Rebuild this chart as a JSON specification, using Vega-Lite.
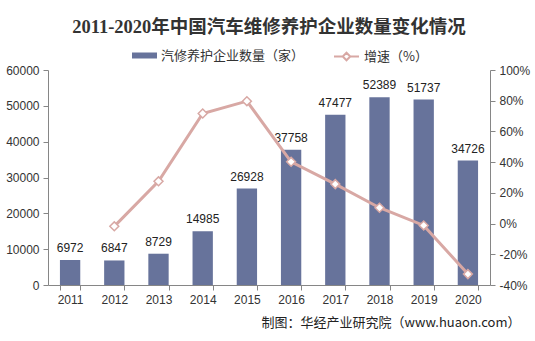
{
  "$schema": "https://vega.github.io/schema/vega-lite/v6.json",
  "width": 442,
  "height": 215,
  "autosize": {"type": "none"},
  "padding": {"left": 48, "top": 70, "right": 45, "bottom": 56},
  "background": "white",
  "title": {
    "text": "2011-2020年中国汽车维修养护企业数量变化情况",
    "font": "Liberation Serif, Noto Sans CJK SC",
    "fontSize": 18.5,
    "fontWeight": "bold",
    "color": "#333333",
    "anchor": "middle",
    "frame": "group",
    "offset": 7
  },
  "config": {
    "view": {"stroke": null},
    "axis": {
      "grid": false,
      "domainColor": "#868686",
      "tickColor": "#868686",
      "tickSize": 5,
      "labelFont": "Liberation Sans",
      "labelFontSize": 12,
      "labelColor": "#333333"
    },
    "legend": {
      "labelFont": "Noto Sans CJK SC",
      "labelFontSize": 13,
      "labelColor": "#333333",
      "padding": 0
    }
  },
  "data": {
    "values": [
      {"year": "2011", "count": 6972, "rate": null},
      {"year": "2012", "count": 6847, "rate": -1.8},
      {"year": "2013", "count": 8729, "rate": 27.5},
      {"year": "2014", "count": 14985, "rate": 71.7},
      {"year": "2015", "count": 26928, "rate": 79.7},
      {"year": "2016", "count": 37758, "rate": 40.2},
      {"year": "2017", "count": 47477, "rate": 25.7},
      {"year": "2018", "count": 52389, "rate": 10.3},
      {"year": "2019", "count": 51737, "rate": -1.2},
      {"year": "2020", "count": 34726, "rate": -32.9}
    ]
  },
  "encoding": {
    "x": {
      "field": "year",
      "type": "ordinal",
      "scale": {"paddingInner": 0.54, "paddingOuter": 0.27},
      "axis": {
        "labelAngle": 0,
        "tickBand": "extent",
        "labelPadding": 4,
        "title": "制图：华经产业研究院（www.huaon.com）",
        "titleFont": "Noto Sans CJK SC",
        "titleFontSize": 13,
        "titleFontWeight": "normal",
        "titleColor": "#222222",
        "titleAlign": "right",
        "titleAnchor": null,
        "titleX": 472,
        "titleY": 37,
        "titleBaseline": "middle"
      }
    }
  },
  "layer": [
    {
      "mark": {"type": "bar"},
      "encoding": {
        "y": {
          "field": "count",
          "type": "quantitative",
          "scale": {"domain": [0, 60000], "nice": false},
          "axis": {"title": null, "values": [0, 10000, 20000, 30000, 40000, 50000, 60000], "format": "d", "labelPadding": 4, "labelOverlap": false, "labelBound": false}
        },
        "fill": {
          "datum": "汽修养护企业数量（家）",
          "type": "nominal",
          "scale": {"range": ["#67739B"]},
          "legend": {
            "title": null,
            "orient": "none",
            "legendX": 84,
            "legendY": -27,
            "symbolType": "M-1,-0.24H1V0.24H-1Z",
            "symbolSize": 625,
            "symbolStrokeWidth": 0,
            "labelOffset": 4
          }
        }
      }
    },
    {
      "mark": {"type": "text", "baseline": "bottom", "dy": -5, "font": "Liberation Sans", "fontSize": 12, "color": "#222222"},
      "encoding": {
        "y": {
          "field": "count",
          "type": "quantitative",
          "scale": {"domain": [0, 60000], "nice": false},
          "axis": null
        },
        "text": {"field": "count", "type": "quantitative", "format": "d"}
      }
    },
    {
      "transform": [{"filter": "datum.rate != null"}],
      "mark": {"type": "line", "strokeWidth": 3},
      "encoding": {
        "y": {
          "field": "rate",
          "type": "quantitative",
          "scale": {"domain": [-40, 100], "nice": false},
          "axis": {
            "orient": "right",
            "title": null,
            "values": [-40, -20, 0, 20, 40, 60, 80, 100],
            "labelExpr": "datum.value + '%'",
            "labelPadding": 4,
            "labelOverlap": false,
            "labelBound": false
          }
        },
        "stroke": {
          "datum": "增速（%）",
          "type": "nominal",
          "scale": {"range": ["#D8A8A4"]},
          "legend": {
            "title": null,
            "orient": "none",
            "legendX": 285,
            "legendY": -27,
            "symbolType": "M-1,0H-0.3M0.3,0H1M0,-0.3L0.3,0L0,0.3L-0.3,0Z",
            "symbolSize": 625,
            "symbolStrokeWidth": 2,
            "symbolFillColor": "white",
            "labelOffset": 4
          }
        }
      }
    },
    {
      "transform": [{"filter": "datum.rate != null"}],
      "mark": {"type": "point", "shape": "diamond", "filled": true, "fill": "white", "stroke": "#D8A8A4", "strokeWidth": 1.5, "size": 80, "opacity": 1},
      "encoding": {
        "y": {
          "field": "rate",
          "type": "quantitative",
          "scale": {"domain": [-40, 100], "nice": false},
          "axis": null
        }
      }
    }
  ],
  "resolve": {"scale": {"y": "independent"}}
}
